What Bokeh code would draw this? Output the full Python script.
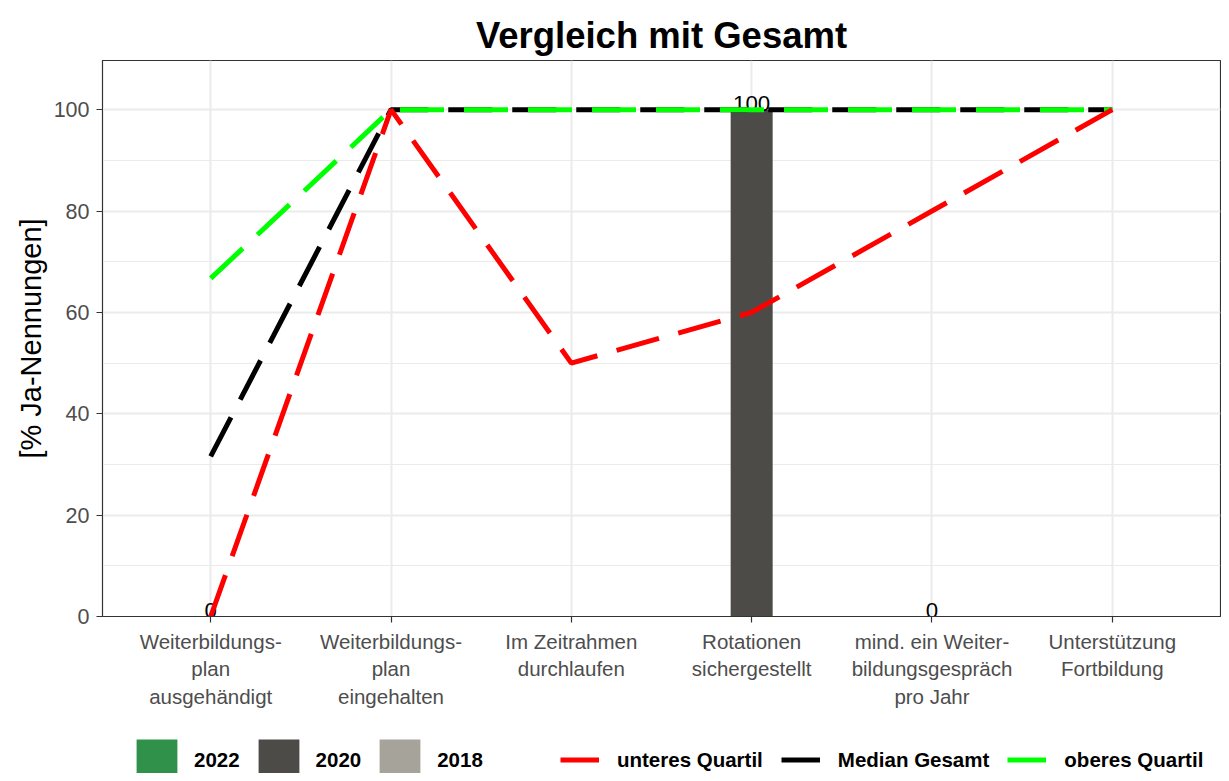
import math
from bokeh.plotting import figure
from bokeh.layouts import column
from bokeh.models import ColumnDataSource, Range1d, FixedTicker, Legend, LegendItem
from bokeh.embed import file_html
from bokeh.resources import INLINE
from bokeh.core.properties import value
from bokeh.transform import dodge

NaN = float("nan")

# ---------------- data ----------------
categories = [
    "Weiterbildungs-\nplan\nausgehändigt",
    "Weiterbildungs-\nplan\neingehalten",
    "Im Zeitrahmen\ndurchlaufen",
    "Rotationen\nsichergestellt",
    "mind. ein Weiter-\nbildungsgespräch\npro Jahr",
    "Unterstützung\nFortbildung",
]
years = ["2022", "2020", "2018"]
values_2022 = [NaN, NaN, NaN, NaN, NaN, NaN]
values_2020 = [0, NaN, NaN, 100, 0, NaN]
values_2018 = [NaN, NaN, NaN, NaN, NaN, NaN]
unteres_quartil = [0, 100, 50, 60, 80, 100]
median_gesamt = [31.6, 100, 100, 100, 100, 100]
oberes_quartil = [66.7, 100, 100, 100, 100, 100]
line_names = ["unteres Quartil", "Median Gesamt", "oberes Quartil"]
y_ticks = [0, 20, 40, 60, 80, 100]
y_minor = [10, 30, 50, 70, 90]

year_colors = ["#2F914A", "#4D4B47", "#A6A39B"]
line_colors = ["#FF0000", "#000000", "#00FF00"]

FONT = "Liberation Sans"
xs = list(range(1, len(categories) + 1))

W = 1221
p = figure(
    width=W, height=710,
    x_range=Range1d(0.4, 6.6), y_range=Range1d(0, 109.7),
    output_backend="svg", toolbar_location=None,
    min_border_left=102, min_border_right=1, min_border_top=60, min_border_bottom=94,
)
p.background_fill_color = "white"
p.border_fill_color = "white"
p.outline_line_color = "#333333"
p.outline_line_width = 1.2

# title
p.title.text = "Vergleich mit Gesamt"
p.title.align = "center"
p.title.text_font = FONT
p.title.text_font_size = "36.5px"
p.title.text_font_style = "bold"
p.title.text_color = "black"

# grids
p.xgrid.ticker = FixedTicker(ticks=xs)
p.ygrid.ticker = FixedTicker(ticks=y_ticks, minor_ticks=y_minor)
for g in (p.xgrid, p.ygrid):
    g.grid_line_color = "#EBEBEB"
    g.grid_line_width = 2
p.ygrid.minor_grid_line_color = "#EBEBEB"
p.ygrid.minor_grid_line_width = 1

# axes
p.xaxis.ticker = FixedTicker(ticks=xs)
p.xaxis.major_label_overrides = {x: c for x, c in zip(xs, categories)}
p.yaxis.ticker = FixedTicker(ticks=y_ticks, minor_ticks=y_minor)
p.yaxis.axis_label = "[% Ja-Nennungen]"
for ax in (p.xaxis[0], p.yaxis[0]):
    ax.axis_line_color = "#333333"
    ax.major_tick_line_color = "#333333"
    ax.major_tick_line_width = 1.2
    ax.major_tick_out = 6
    ax.major_tick_in = 0
    ax.minor_tick_line_color = None
    ax.major_label_text_font = FONT
    ax.major_label_text_color = "#4D4D4D"
    ax.major_label_standoff = 7
    ax.axis_label_text_font = FONT
    ax.axis_label_text_font_style = "normal"
    ax.axis_label_text_color = "black"
p.xaxis.major_label_text_font_size = "20.5px"
p.yaxis.major_label_text_font_size = "21.5px"
p.yaxis.axis_label_text_font_size = "29px"
p.yaxis.axis_label_standoff = 4

# bars (dodged)
bar_w = 0.233
offsets = [-bar_w, 0, bar_w]
for vals, col, off in zip([values_2022, values_2020, values_2018], year_colors, offsets):
    src = ColumnDataSource(dict(x=xs, top=vals))
    p.vbar(x=dodge("x", off), top="top", bottom=0, width=bar_w,
           fill_color=col, line_color=None, source=src)

# bar value labels
for vals, off in zip([values_2022, values_2020, values_2018], offsets):
    lx = [x for x, v in zip(xs, vals) if not math.isnan(v)]
    ly = [v for v in vals if not math.isnan(v)]
    if lx:
        lsrc = ColumnDataSource(dict(x=lx, y=ly, t=[f"{v:.0f}" for v in ly]))
        p.text(x=dodge("x", off), y="y", text="t", source=lsrc,
               text_font=value(FONT), text_font_size="22.3px", text_color="black",
               text_align="center", text_baseline="alphabetic", y_offset=-6)

# quartile lines
for name, vals, col in [("Median Gesamt", median_gesamt, line_colors[1]),
                        ("oberes Quartil", oberes_quartil, line_colors[2]),
                        ("unteres Quartil", unteres_quartil, line_colors[0])]:
    src = ColumnDataSource(dict(x=xs, y=vals))
    p.line(x="x", y="y", source=src, line_color=col,
           line_width=5, line_dash="44 20", line_cap="butt")

# ---------------- legend strip (separate figure below) ----------------
lg = figure(
    width=W, height=63, x_range=Range1d(0, 1), y_range=Range1d(0, 1),
    output_backend="svg", toolbar_location=None,
    x_axis_location=None, y_axis_location=None,
    min_border_left=0, min_border_right=0, min_border_top=0, min_border_bottom=0,
)
lg.outline_line_color = None
lg.xgrid.visible = False
lg.ygrid.visible = False
lg.background_fill_color = "white"
lg.border_fill_color = "white"

key_bars = [lg.vbar(x=[NaN], top=[NaN], width=0.1, fill_color=c, line_color=None)
            for c in year_colors]
key_lines = [lg.line(x=[NaN, NaN], y=[NaN, NaN], line_color=c, line_width=5)
             for c in line_colors]

common = dict(
    orientation="horizontal", padding=0, margin=0, border_line_color=None,
    background_fill_alpha=0, label_text_font=FONT, label_text_font_style="bold",
    label_text_font_size="20.5px", label_text_color="black", glyph_height=51,
)
legA = Legend(items=[LegendItem(label=y, renderers=[r]) for y, r in zip(years, key_bars)],
              location=(29, -12), glyph_width=51, label_standoff=12, spacing=13, **common)
legB = Legend(items=[LegendItem(label=n, renderers=[r]) for n, r in zip(line_names, key_lines)],
              location=(458, -12), glyph_width=39, label_standoff=18, spacing=18, **common)
lg.add_layout(legA)
lg.add_layout(legB)

layout = column(p, lg, spacing=0)
open("out.html", "w").write(file_html(layout, INLINE))
